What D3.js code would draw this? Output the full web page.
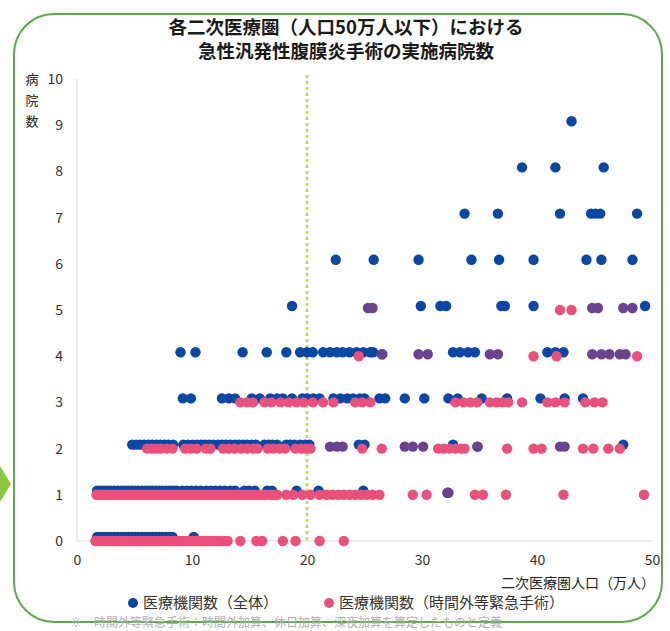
<!DOCTYPE html>
<html><head><meta charset="utf-8">
<script src="https://cdn.jsdelivr.net/npm/d3@7"></script>
<style>
html,body{margin:0;padding:0;background:#fff;}
svg{display:block;font-family:"Noto Sans CJK JP","Noto Sans",sans-serif;}
</style></head>
<body>
<script>
// ---- data (x = 二次医療圏人口 万人, array index = 病院数) ----
const titleLines = ["各二次医療圏（人口50万人以下）における", "急性汎発性腹膜炎手術の実施病院数"];
const xTicks = [0, 10, 20, 30, 40, 50];
const yTicks = [0, 1, 2, 3, 4, 5, 6, 7, 8, 9, 10];
const thresholdX = 20;

// 医療機関数（全体）
const blueX = [
  [1.75,2.05,2.35,2.65,2.95,3.25,3.55,3.85,4.15,4.45,4.75,5.05,5.35,5.65,5.95,6.25,6.55,6.85,7.15,7.45,7.75,8.05,8.3,10.15],
  [1.75,2.05,2.35,2.65,2.95,3.25,3.55,3.85,4.15,4.45,4.75,5.05,5.35,5.65,5.95,6.25,6.55,6.85,7.15,7.45,7.75,8.05,8.35,8.65,9.15,9.55,9.95,10.35,10.75,11.25,11.65,12.05,12.45,12.85,13.35,13.75,14.55,14.95,15.45,16.55,16.95,19.1,21.0,24.9],
  [4.8,5.15,5.5,5.85,6.2,6.55,6.9,7.25,7.6,7.95,8.35,9.25,9.65,10.05,10.45,10.8,11.15,11.5,11.85,12.25,12.6,12.95,13.35,13.75,14.1,14.45,14.8,15.2,15.55,16.3,16.65,17.0,17.4,18.2,18.55,18.9,19.4,19.85,20.2,24.5,25.0,32.7,47.5],
  [9.2,9.9,12.6,13.2,13.75,15.2,15.9,16.8,17.4,17.9,18.7,19.6,20.0,20.55,21.1,22.3,22.9,23.5,24.0,24.6,25.0,26.3,26.8,28.5,30.2,32.3,33.1,35.2,37.4,40.3,42.4,44.0],
  [9.0,10.3,14.4,16.5,18.2,19.4,20.0,20.5,21.4,22.0,22.6,23.1,23.7,24.3,24.9,25.5,25.75,32.7,33.3,34.0,34.6,40.9,41.6,42.3],
  [18.7,29.9,31.6,32.1,36.9,37.2,39.7,49.4],
  [22.5,25.8,29.7,34.3,36.7,39.7,44.3,45.6,48.3],
  [33.7,36.6,42.0,44.7,45.1,45.5,48.7],
  [38.7,41.6,45.8],
  [43.0],
  []
];

// 医療機関数（時間外等緊急手術）
const pinkX = [
  [1.6,1.9,2.2,2.5,2.8,3.1,3.4,3.7,4.0,4.3,4.6,4.9,5.2,5.5,5.8,6.1,6.4,6.7,7.0,7.3,7.6,7.9,8.2,8.5,8.8,9.1,9.4,9.7,10.0,10.3,10.6,10.9,11.2,11.5,11.8,12.1,12.4,12.8,13.1,14.2,15.6,16.1,17.9,19.0,21.1,23.2],
  [1.7,2.0,2.3,2.6,2.9,3.2,3.5,3.8,4.1,4.4,4.7,5.0,5.3,5.6,5.9,6.2,6.5,6.8,7.1,7.4,7.7,8.0,8.3,8.6,8.9,9.2,9.5,9.8,10.1,10.4,10.7,11.0,11.3,11.6,11.9,12.2,12.5,12.8,13.1,13.4,13.7,14.0,14.3,14.6,14.9,15.2,15.5,15.8,16.1,16.4,16.8,17.1,17.4,18.2,18.8,19.6,20.3,21.1,21.7,22.2,22.7,23.2,23.7,24.2,24.7,25.2,25.7,26.3,29.2,30.4,34.6,35.3,37.3,42.3,49.3],
  [6.1,6.5,6.9,7.3,7.8,8.3,9.4,9.9,10.4,11.2,11.6,12.7,13.2,13.7,14.3,14.8,15.3,15.7,16.6,17.1,17.6,18.1,19.0,19.5,19.9,20.3,24.8,26.5,31.4,31.9,32.4,32.9,33.4,33.7,37.4,39.7,40.4,44.0,44.9,46.2,47.2],
  [14.2,14.8,15.3,16.3,16.9,17.7,18.4,19.1,19.7,20.5,21.4,22.3,24.2,24.8,25.5,32.9,33.6,34.2,34.8,35.9,36.5,37.0,37.5,38.7,40.9,41.6,42.4,44.2,45.0,45.7],
  [24.5,39.7,41.7,48.7],
  [42.0,43.0],
  [], [], [], [], []
];

// 両系列が重なる点
const bothX = [
  [],
  [32.2,32.3],
  [22.0,22.6,23.1,28.5,29.2,30.1,34.8,34.85,42.0,42.4],
  [],
  [26.5,26.55,29.7,30.5,35.9,36.6,44.8,45.6,46.3,47.2,47.7],
  [25.3,25.7,44.8,45.3,47.5,48.3],
  [], [], [], [], []
];

const legendItems = [
  {label: "医療機関数（全体）", color: "#0a47a5"},
  {label: "医療機関数（時間外等緊急手術）", color: "#e9507b"}
];
const xAxisTitle = "二次医療圏人口（万人）";
const yAxisTitle = ["病", "院", "数"];
const footnote = "※　時間外等緊急手術：時間外加算、休日加算、深夜加算を算定したものと定義";

// ---- drawing ----
const W = 670, H = 631;
const BLUE = "#0a47a5", PINK = "#e9507b", PURPLE = "#6b4290";
const svg = d3.select("body").append("svg").attr("width", W).attr("height", H);

// frame
svg.append("rect").attr("x", 14).attr("y", 14).attr("width", 648).attr("height", 608)
  .attr("rx", 40).attr("ry", 40).attr("fill", "none").attr("stroke", "#5fa84e").attr("stroke-width", 2);
svg.append("path").attr("d", "M0,466 L11,484 L0,502 Z").attr("fill", "#8dc63f");

// title
svg.append("g").selectAll("text").data(titleLines).join("text")
  .attr("x", 346).attr("y", (d, i) => 34 + i * 24)
  .attr("text-anchor", "middle").attr("font-size", 18.5).attr("font-weight", "bold").attr("fill", "#1a1a1a")
  .text(d => d);

const x = d3.scaleLinear().domain([0, 50]).range([77, 652]);
const y = d3.scaleLinear().domain([0, 10]).range([541, 79]);

// axis lines
svg.append("line").attr("x1", x(0)).attr("x2", x(0)).attr("y1", y(10)).attr("y2", y(0))
  .attr("stroke", "#e2e2e2").attr("stroke-width", 1.5);
svg.append("line").attr("x1", x(0)).attr("x2", x(50)).attr("y1", y(0)).attr("y2", y(0))
  .attr("stroke", "#e6e6e6").attr("stroke-width", 1.5);

// threshold line
svg.append("line").attr("x1", x(thresholdX)).attr("x2", x(thresholdX)).attr("y1", y(10) - 4).attr("y2", y(0))
  .attr("stroke", "#c3d94a").attr("stroke-width", 2.5).attr("stroke-dasharray", "3,3");

// axes
const yAxis = svg.append("g").attr("transform", `translate(${x(0) - 14},0)`)
  .call(d3.axisLeft(y).tickValues(yTicks).tickSize(0).tickPadding(0).tickFormat(d3.format("d")));
yAxis.select(".domain").remove();
yAxis.selectAll("text").attr("font-size", 14).attr("fill", "#333")
  .attr("font-family", "\"Noto Sans CJK JP\",sans-serif");

const xAxis = svg.append("g").attr("transform", `translate(0,${y(0) + 14})`)
  .call(d3.axisBottom(x).tickValues(xTicks).tickSize(0).tickPadding(0).tickFormat(d3.format("d")));
xAxis.select(".domain").remove();
xAxis.selectAll("text").attr("font-size", 14).attr("fill", "#333")
  .attr("font-family", "\"Noto Sans CJK JP\",sans-serif");

// y-axis title
svg.append("g").selectAll("text").data(yAxisTitle).join("text")
  .attr("x", 32).attr("y", (d, i) => 84 + i * 21)
  .attr("text-anchor", "middle").attr("font-size", 13).attr("fill", "#222").text(d => d);

// x-axis title
svg.append("text").attr("x", 655).attr("y", 588).attr("text-anchor", "end")
  .attr("font-size", 14).attr("fill", "#222").text(xAxisTitle);

// points
const toPts = arr => arr.flatMap((xs, v) => xs.map(xv => ({x: xv, v})));
const R = 5.2;
const dots = svg.append("g");
dots.selectAll("circle.b").data(toPts(blueX)).join("circle").attr("class", "b")
  .attr("cx", d => x(d.x)).attr("cy", d => y(d.v) - 4).attr("r", R).attr("fill", BLUE);
dots.selectAll("circle.p").data(toPts(pinkX)).join("circle").attr("class", "p")
  .attr("cx", d => x(d.x)).attr("cy", d => y(d.v)).attr("r", R).attr("fill", PINK);
dots.selectAll("circle.m").data(toPts(bothX)).join("circle").attr("class", "m")
  .attr("cx", d => x(d.x)).attr("cy", d => y(d.v) - 2).attr("r", R).attr("fill", PURPLE);

// legend
const lx = [133, 329];
const lg = svg.append("g").selectAll("g").data(legendItems).join("g")
  .attr("transform", (d, i) => `translate(${lx[i]},603)`);
lg.append("circle").attr("r", 5).attr("fill", d => d.color);
lg.append("text").attr("x", 10).attr("y", 5).attr("font-size", 15).attr("fill", "#333").text(d => d.label);

// footnote
svg.append("text").attr("x", 70).attr("y", 627).attr("font-size", 12).attr("fill", "#b0b0b0").text(footnote);
</script>
</body></html>
